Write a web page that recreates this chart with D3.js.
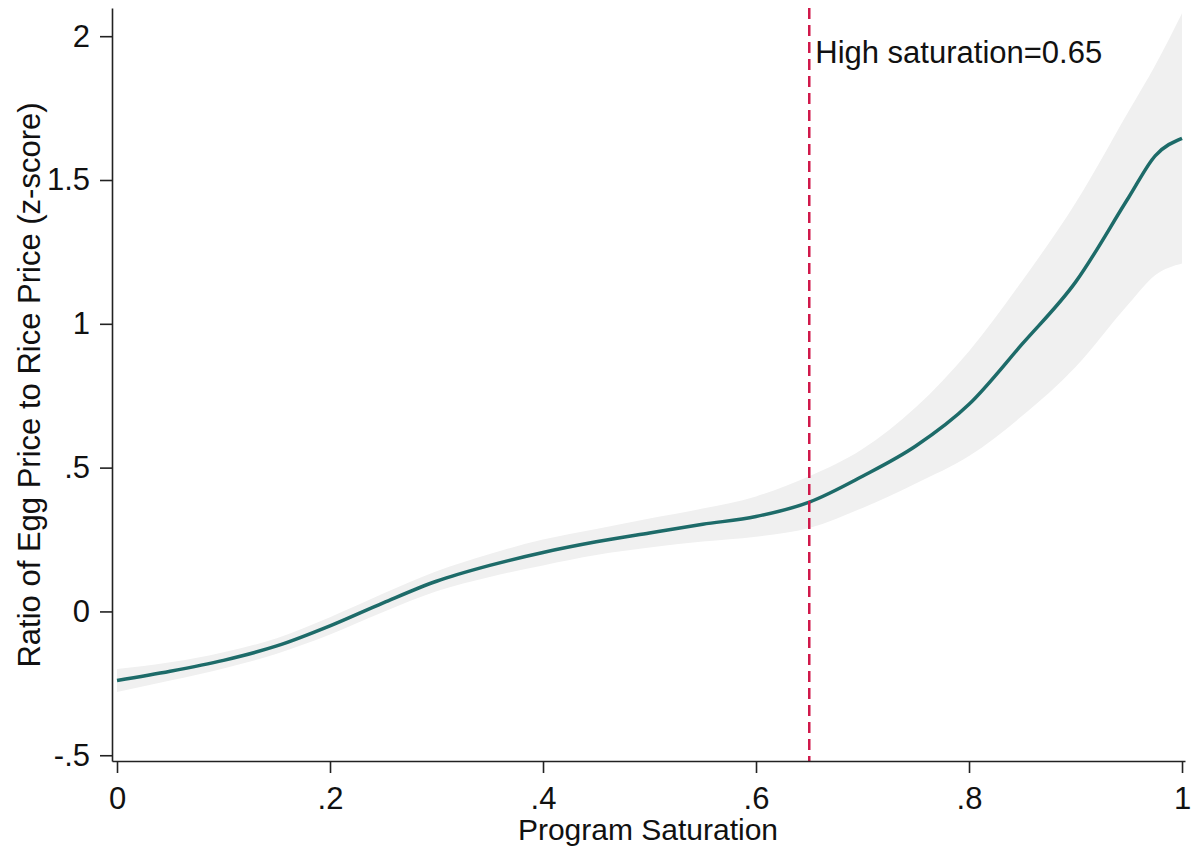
<!DOCTYPE html>
<html>
<head>
<meta charset="utf-8">
<script src="https://cdn.jsdelivr.net/npm/d3@7"></script>
<style>
	body { margin: 0; background: #fff; }
	svg text { font-family: "Liberation Sans", Arial, sans-serif; fill: #111; }
</style>
</head>
<body>
<svg id="chart" width="1191" height="852"></svg>
<script>
// program saturation grid
var saturation = [0, .05, .1, .15, .2, .25, .3, .35, .4, .45, .5, .55, .6, .65, .7, .75, .8, .85, .9, .95, .975, 1];
// fitted ratio (z-score)
var fitted = [-.24, -.208, -.17, -.12, -.05, .03, .105, .16, .205, .242, .273, .303, .33, .38, .47, .575, .72, .93, 1.145, 1.44, 1.585, 1.645];
// confidence band
var upper = [-.20, -.177, -.142, -.093, -.02, .062, .14, .20, .25, .287, .323, .358, .40, .47, .565, .71, .905, 1.15, 1.42, 1.74, 1.90, 2.08];
var lower = [-.28, -.24, -.198, -.147, -.08, -.002, .07, .12, .16, .196, .222, .243, .26, .29, .36, .445, .54, .68, .85, 1.07, 1.17, 1.21];

var xTicks = [0, .2, .4, .6, .8, 1];
var xTickLabels = ["0", ".2", ".4", ".6", ".8", "1"];
var yTicks = [-.5, 0, .5, 1, 1.5, 2];
var yTickLabels = ["-.5", "0", ".5", "1", "1.5", "2"];

var cutoff = 0.65;
var cutoffLabel = "High saturation=0.65";

var svg = d3.select("#chart");

var x = d3.scaleLinear().domain([-0.0047, 1.0028]).range([112, 1185]);
var y = d3.scaleLinear().domain([-0.52, 2.098]).range([761, 8]);

var rows = saturation.map(function(s, i) {
	return { s: s, fit: fitted[i], hi: upper[i], lo: lower[i] };
});

// band
svg.append("path")
	.datum(rows)
	.attr("fill", "#f0f0f0")
	.attr("d", d3.area()
		.x(d => x(d.s))
		.y0(d => y(d.lo))
		.y1(d => y(d.hi))
		.curve(d3.curveMonotoneX));

// fitted line
svg.append("path")
	.datum(rows)
	.attr("fill", "none")
	.attr("stroke", "#1d6b69")
	.attr("stroke-width", 3.5)
	.attr("d", d3.line()
		.x(d => x(d.s))
		.y(d => y(d.fit))
		.curve(d3.curveMonotoneX));

// cutoff line
svg.append("line")
	.attr("x1", x(cutoff)).attr("x2", x(cutoff))
	.attr("y1", y.range()[1]).attr("y2", y.range()[0])
	.attr("stroke", "#d0184a")
	.attr("stroke-width", 2.5)
	.attr("stroke-dasharray", "11,6");

svg.append("text")
	.attr("x", x(cutoff) + 6)
	.attr("y", 63)
	.style("font-size", "31px")
	.text(cutoffLabel);

// axes
var xAxis = svg.append("g")
	.attr("transform", "translate(0," + y.range()[0] + ")")
	.call(d3.axisBottom(x)
		.tickValues(xTicks)
		.tickFormat((d, i) => xTickLabels[i])
		.tickSize(12)
		.tickSizeOuter(0)
		.tickPadding(14));

var yAxis = svg.append("g")
	.attr("transform", "translate(" + x.range()[0] + ",0)")
	.call(d3.axisLeft(y)
		.tickValues(yTicks)
		.tickFormat((d, i) => yTickLabels[i])
		.tickSize(12)
		.tickSizeOuter(0)
		.tickPadding(10));

svg.selectAll(".tick text")
	.style("font-size", "31px")
	.attr("font-family", null);
svg.selectAll(".domain, .tick line")
	.attr("stroke", "#222")
	.attr("stroke-width", 1.6);

// titles
svg.append("text")
	.attr("x", 648)
	.attr("y", 840)
	.attr("text-anchor", "middle")
	.style("font-size", "30px")
	.text("Program Saturation");

svg.append("text")
	.attr("transform", "translate(40,385) rotate(-90)")
	.attr("text-anchor", "middle")
	.style("font-size", "31px")
	.text("Ratio of Egg Price to Rice Price (z-score)");
</script>
</body>
</html>
